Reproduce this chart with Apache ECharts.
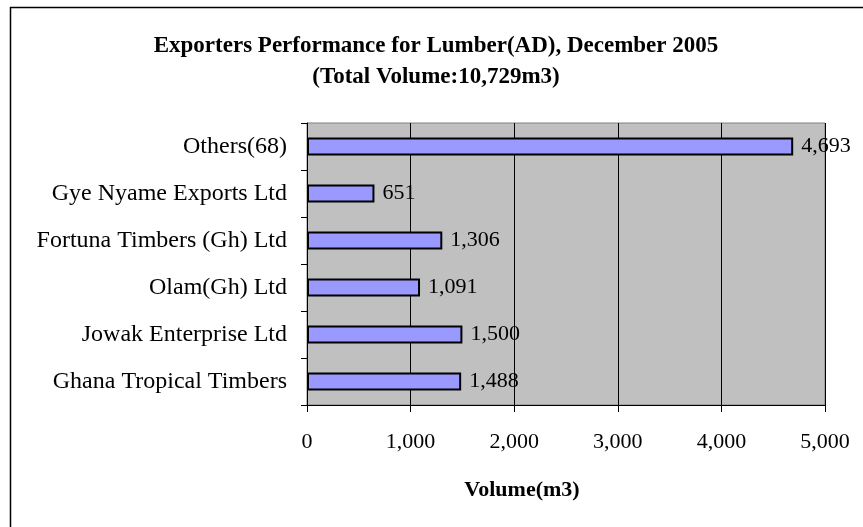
<!DOCTYPE html>
<html>
<head>
<meta charset="utf-8">
<script src="https://cdn.jsdelivr.net/npm/echarts@6/dist/echarts.min.js"></script>
<style>
  html, body { margin: 0; padding: 0; background: #fff; }
  #chart { width: 863px; height: 527px; }
</style>
</head>
<body>
<div id="chart"></div>
<script>
// categories listed bottom to top
const categories = ['Ghana Tropical Timbers', 'Jowak Enterprise Ltd', 'Olam(Gh) Ltd',
  'Fortuna Timbers (Gh) Ltd', 'Gye Nyame Exports Ltd', 'Others(68)']
const volumes = [1488, 1500, 1091, 1306, 651, 4693]
const xTicks = [0, 1000, 2000, 3000, 4000, 5000]

const serif = '"Liberation Serif", "DejaVu Serif", serif'
const fmt = v => v.toLocaleString('en-US')

const chart = echarts.init(document.getElementById('chart'))

chart.setOption({
  backgroundColor: '#fff',
  animation: false,
  title: [{
    text: 'Exporters Performance for Lumber(AD), December 2005\n(Total Volume:10,729m3)',
    left: 431,
    top: 26,
    textAlign: 'center',
    textStyle: { fontFamily: serif, fontSize: 23, fontWeight: 'bold', color: '#000', lineHeight: 31 }
  }, {
    text: 'Volume(m3)',
    left: 517,
    top: 474,
    textAlign: 'center',
    textStyle: { fontFamily: serif, fontSize: 22, fontWeight: 'bold', color: '#000' }
  }],
  graphic: [{
    type: 'rect',
    shape: { x: 10.5, y: 7.5, width: 900, height: 600 },
    style: { fill: null, stroke: '#000', lineWidth: 1.5 },
    silent: true
  }],
  grid: {
    left: 307, right: 863 - 825, top: 123, bottom: 527 - 405,
    show: true,
    backgroundColor: '#c0c0c0',
    borderColor: '#808080',
    borderWidth: 1
  },
  xAxis: {
    type: 'value',
    min: xTicks[0],
    max: xTicks[xTicks.length - 1],
    interval: 1000,
    axisLine: { show: true, lineStyle: { color: '#000', width: 1 } },
    axisTick: { show: true, length: 7, lineStyle: { color: '#000' } },
    splitLine: { show: true, lineStyle: { color: '#000', width: 1 } },
    axisLabel: { fontFamily: serif, fontSize: 22, color: '#000', margin: 26, formatter: fmt }
  },
  yAxis: {
    type: 'category',
    data: categories,
    axisLine: { show: true, lineStyle: { color: '#000', width: 1 } },
    axisTick: { show: true, length: 6, lineStyle: { color: '#000' } },
    axisLabel: { fontFamily: serif, fontSize: 24, color: '#000', margin: 20 }
  },
  series: [{
    type: 'bar',
    data: volumes,
    barWidth: '38%',
    itemStyle: { color: '#9999ff', borderColor: '#000', borderWidth: 2 },
    label: {
      show: true,
      position: 'right',
      distance: 8,
      fontFamily: serif,
      fontSize: 22,
      color: '#000',
      formatter: p => fmt(p.value)
    }
  }]
})
</script>
</body>
</html>
